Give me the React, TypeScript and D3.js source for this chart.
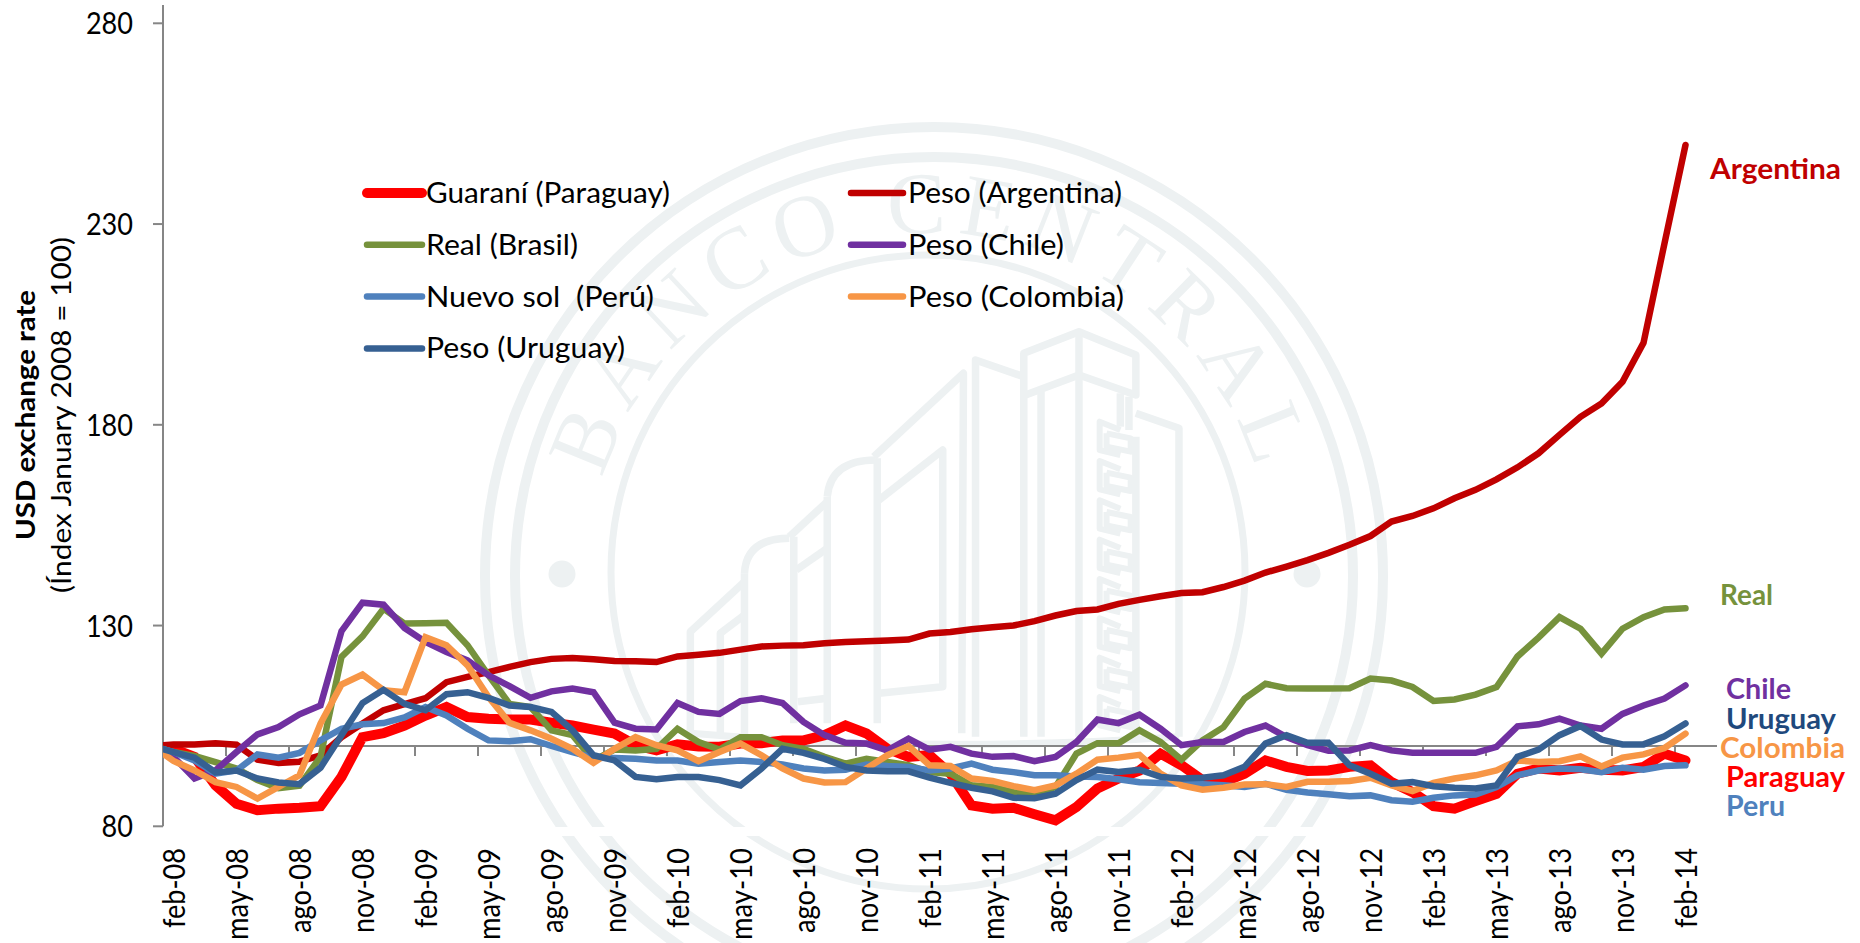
import React from "react";
import * as d3 from "d3";

// One value per month, jan-08 (index base) to feb-14
const paraguay = [100,99.3,97.3,90.2,85.6,84,84.4,84.6,85,92.3,102.2,103.2,105.1,107.6,109.7,107.2,106.8,106.6,106.6,105.8,105.1,104.1,103.1,100.2,98.9,100.4,99.9,99.8,100.6,100.7,101.4,101.4,102.7,105.1,103.1,99.3,97.3,97.7,93.1,85.2,84.4,84.6,83,81.5,84.8,89.4,91.9,93.9,98.1,95.2,91.5,91,93.1,96.4,94.8,93.8,93.9,94.8,95.2,91,88.5,85,84.4,86.3,88.1,93.1,94.4,93.9,94.6,94.1,93.9,94.8,98.1,96.4];
const argentina = [100,100.4,100.4,100.7,100.3,96.6,95.8,96.1,97.7,102.2,105.6,108.9,110.4,111.9,115.9,117.2,118.4,119.7,120.9,121.7,121.9,121.6,121.2,121.1,120.9,122.3,122.7,123.2,124,124.8,125,125.1,125.6,125.9,126.1,126.3,126.5,128,128.4,129.1,129.6,130,131.1,132.5,133.6,134,135.4,136.4,137.3,138.1,138.3,139.6,141.2,143.2,144.7,146.3,148.1,150.1,152.3,155.9,157.3,159.2,161.7,163.8,166.4,169.4,172.9,177.5,182,185.3,190.7,200.4,225.2,249.7];
const real = [100,98.5,97.5,96,94.4,91.5,89.5,90.1,97.3,122.2,127.3,134.2,130.5,130.6,130.7,125.1,117.6,110.5,109.7,103.9,102.7,96.4,99.1,98.9,99.3,104.3,101,99.1,102.2,102.2,100.2,99.3,97.3,95.6,96.8,96,95.2,93.5,93.1,90.2,89.8,88.5,87.7,89.8,98.1,100.7,100.7,103.9,101,96.6,101.4,104.7,111.8,115.5,114.4,114.3,114.3,114.4,116.8,116.3,114.7,111.2,111.6,112.8,114.7,122.3,127,132.1,129.2,123,129.2,132.1,134,134.3];
const chile = [100,97.3,91.9,93.9,98.5,102.9,104.7,107.9,110.1,128.6,135.7,135.2,129.4,125.9,123.4,121.3,117.6,114.9,112,113.6,114.3,113.4,105.8,104.3,104.1,110.7,108.5,108,111.2,111.9,110.7,106,102.7,100.8,100.6,98.9,101.8,99.1,99.8,98.1,97.3,97.5,96.2,97.3,101,106.6,105.7,107.8,104.3,100.2,101,101,103.5,105.1,102.2,100.2,98.8,98.9,100.2,98.9,98.3,98.3,98.3,98.3,99.8,104.9,105.4,106.8,105.1,104.3,108,110.1,111.8,115.1];
const peru = [100,98.5,96.4,93.1,93.9,97.9,97.1,98.3,101.4,104.3,105.4,105.7,107.1,109.7,107.6,104.3,101.4,101.2,101.7,100,98.5,97.1,97,96.8,96.4,96.4,95.6,96,96.4,96,95.4,94.4,93.9,94.1,95.4,95,94.8,93.9,94.4,95.6,94.1,93.5,92.7,92.7,92.4,92.3,91.7,91,90.8,90.6,90.5,90.2,89.8,90.6,89.1,88.4,88,87.5,87.7,86.5,86.1,87.1,87.7,87.9,89.8,92.7,93.9,94.4,94.2,93.5,94.6,94.1,95,95.2];
const colombia = [100,96.3,93.9,91,89.8,86.9,89.8,92.7,105.6,115.3,117.8,113.9,113.4,127.1,125.1,120.1,112.2,105.8,103.9,101.8,99.3,95.8,99.3,102.2,100.2,98.9,96.2,98.5,100.6,97.7,94.4,91.9,90.9,91,94.4,97.7,100,95.2,95,91.9,91.3,90,89,90.2,93.1,96.6,97.1,97.8,93.1,90.2,89.1,89.6,90.4,90.5,89.8,91.1,91.1,91.3,92.1,90.2,88.8,90.8,91.9,92.7,93.9,96.4,96,96.2,97.4,94.9,97.1,97.9,99.5,103.1];
const uruguay = [100,98.5,97.1,93.4,93.9,91.9,90.9,90.5,94.6,102.7,110.7,114,110.5,108.9,112.9,113.4,112,110.1,109.7,108.5,103.9,97.7,96.4,92.3,91.7,92.3,92.3,91.5,90.2,94.4,99.3,98.3,96.8,94.8,93.9,93.7,93.7,92.1,90.8,89.6,88.7,87.1,87,88.1,91.5,94.1,93.5,94.1,92.3,91.9,92.1,92.7,94.8,100.6,102.7,100.8,100.8,95.2,93.1,90.6,91,90,89.6,89.4,90.2,97.3,99.1,102.7,105,101.6,100.4,100.4,102.4,105.6];

const yTicks = [80, 130, 180, 230, 280];
const monthNames = ["ene","feb","mar","abr","may","jun","jul","ago","sep","oct","nov","dic"];
const tickWidths: Record<string, number> = { feb: 80, may: 92, ago: 85, nov: 85 };

const seriesNames = ["Guaraní (Paraguay)","Peso (Argentina)","Real (Brasil)","Peso (Chile)","Nuevo sol  (Perú)","Peso (Colombia)","Peso (Uruguay)"];
const seriesValues = [paraguay, argentina, real, chile, peru, colombia, uruguay];
const seriesColors = ["#ff0000","#c00000","#76923c","#7030a0","#4f81bd","#f79646","#366092"];
const seriesWidths = [10, 6.5, 6.5, 6.5, 6.5, 6.5, 6.5];
const legendTextWidths = [244, 214, 152, 156, 228, 216, 199];

const legendOrder = [
  { s: 0, col: 0, row: 0 }, { s: 2, col: 0, row: 1 }, { s: 4, col: 0, row: 2 }, { s: 6, col: 0, row: 3 },
  { s: 1, col: 1, row: 0 }, { s: 3, col: 1, row: 1 }, { s: 5, col: 1, row: 2 },
];

const endLabels = [
  { t: "Argentina", x: 1710, y: 179, w: 131, c: "#c00000" },
  { t: "Real", x: 1720, y: 605, w: 53, c: "#76923c" },
  { t: "Chile", x: 1726, y: 699, w: 65, c: "#7030a0" },
  { t: "Uruguay", x: 1726, y: 729, w: 110, c: "#1f497d" },
  { t: "Colombia", x: 1720, y: 758, w: 125, c: "#f79646" },
  { t: "Paraguay", x: 1726, y: 787, w: 119, c: "#ff0000" },
  { t: "Peru", x: 1726, y: 816, w: 59, c: "#4f81bd" },
];

const FONT = "Lato, 'Open Sans', sans-serif";
const WM = "#edf1f2";
const axisColor = "#868686";

const x = d3.scaleLinear().domain([0, 73]).range([152.5, 1685.5]);
const y = d3.scaleLinear().domain([80, 280]).range([826.3, 23.3]);
const line = d3.line<number>().x((_, i) => x(i)).y((d) => y(d));

// Watermark building, in the seal's own coordinates
const bx = (v: number) => 660 + v / 2.9;
const by = (v: number) => 310 + v / 3;
const buildingLines: number[][][] = [
  [[88,1270],[88,965],[245,815]],
  [[175,1270],[175,970],[245,915]],
  [[375,680],[485,575]],
  [[395,780],[485,715]],
  [[388,680],[388,1240]],
  [[400,1175],[485,1165]],
  [[485,1240],[485,560]],
  [[245,1290],[245,790]],
  [[630,1240],[630,445]],
  [[620,440],[880,190],[875,1270]],
  [[635,570],[820,420],[820,1130],[635,1150]],
  [[915,1280],[915,150],[1055,200]],
  [[1055,1280],[1055,130],[1215,65],[1380,135],[1380,255],[1215,195],[1060,255]],
  [[1215,65],[1215,1280]],
  [[1105,245],[1105,1280]],
  [[1335,250],[1335,350]],
  [[1360,260],[1360,360]],
  [[1380,310],[1505,355],[1505,1280]],
  [[1380,1280],[1380,380]],
];
const combRows = [0, 1, 2, 3, 4, 5, 6, 7];

function polar(r: number, deg: number) {
  const a = (deg * Math.PI) / 180;
  return [931 + r * Math.sin(a), 575 - r * Math.cos(a)];
}
function arcPath(r: number, from: number, to: number, sweep: number) {
  const [x0, y0] = polar(r, from);
  const [x1, y1] = polar(r, to);
  return `M${x0},${y0}A${r},${r} 0 1 ${sweep} ${x1},${y1}`;
}

function Watermark() {
  const l = d3.line<number[]>().x((p) => bx(p[0])).y((p) => by(p[1]));
  return (
    <g fill="none" stroke={WM}>
      <circle cx={934} cy={576} r={449} strokeWidth={10} />
      <circle cx={934} cy={576} r={419} strokeWidth={10} />
      <circle cx={928} cy={572} r={317} strokeWidth={7} />
      <circle cx={562} cy={574} r={13.5} fill={WM} stroke="none" />
      <circle cx={1307} cy={574} r={13.5} fill={WM} stroke="none" />
      <defs>
        <path id="wmTop" d={arcPath(342, -130, 130, 1)} />
        <path id="wmBottom" d={arcPath(398, -125, 125, 0)} />
      </defs>
      <text fontFamily="'Liberation Serif', serif" fontSize={88} fill={WM} stroke="none" textAnchor="middle" letterSpacing={11}>
        <textPath href="#wmTop" startOffset="50%">BANCO CENTRAL</textPath>
      </text>
      <text fontFamily="'Liberation Serif', serif" fontSize={88} fill={WM} stroke="none" textAnchor="middle" letterSpacing={22}>
        <textPath href="#wmBottom" startOffset="50%">DEL PARAGUAY</textPath>
      </text>
      <g strokeWidth={7.5} strokeLinejoin="round">
        {buildingLines.map((p, i) => <path key={i} d={l(p as any) as string} />)}
        <path d={`M${bx(245)},${by(790)}Q${bx(250)},${by(685)} ${bx(375)},${by(685)}`} />
        <path d={`M${bx(485)},${by(560)}Q${bx(495)},${by(450)} ${bx(625)},${by(450)}`} />
        {combRows.map((k) => {
          const r = 340 + 118 * k;
          return (
            <g key={k} strokeWidth={6}>
              <path d={l([[1335, r + 20], [1275, r - 5], [1275, r + 80], [1335, r + 95]] as any) as string} />
              <path d={l([[1295, r + 30], [1365, r + 45], [1365, r + 85], [1295, r + 70], [1295, r + 30]] as any) as string} />
            </g>
          );
        })}
        <path d={`M${bx(88)},${by(1270)}Q${bx(800)},${by(1330)} ${bx(1505)},${by(1280)}`} strokeWidth={7} />
      </g>
    </g>
  );
}

export default function App() {
  const tickIdx = d3.range(1, 74, 3); // feb, may, ago, nov
  return (
    <svg width={1860} height={943} viewBox="0 0 1860 943" style={{ position: "absolute", left: 0, top: 0, background: "#fff" }}>
      <defs>
        <clipPath id="plot"><rect x={163} y={0} width={1600} height={943} /></clipPath>
      </defs>
      <Watermark />
      <rect x={150} y={827} width={1560} height={9} fill="#fff" />

      {/* value axis */}
      <line x1={163} x2={163} y1={5} y2={y(80)} stroke={axisColor} strokeWidth={2} />
      {yTicks.map((t) => (
        <g key={t}>
          <line x1={153} x2={163} y1={y(t)} y2={y(t)} stroke={axisColor} strokeWidth={2} />
          <text x={133} y={y(t) + 11} textAnchor="end" fontFamily={FONT} fontSize={30} fill="#000" textLength={String(t).length * 15.7} lengthAdjust="spacingAndGlyphs">{t}</text>
        </g>
      ))}

      {/* category axis crossing at 100 */}
      <line x1={163} x2={1717} y1={y(100)} y2={y(100)} stroke={axisColor} strokeWidth={2} />
      {tickIdx.map((i) => (
        <line key={i} x1={x(i) - 10.5} x2={x(i) - 10.5} y1={y(100)} y2={y(100) + 10} stroke={axisColor} strokeWidth={2} />
      ))}
      {tickIdx.map((i) => {
        const m = monthNames[i % 12];
        const yr = String(8 + Math.floor(i / 12)).padStart(2, "0");
        return (
          <text key={i} transform={`translate(${x(i) + 11},848) rotate(-90)`} textAnchor="end" fontFamily={FONT} fontSize={30} fill="#000" textLength={tickWidths[m]} lengthAdjust="spacingAndGlyphs">
            {`${m}-${yr}`}
          </text>
        );
      })}

      {/* series */}
      <g clipPath="url(#plot)" fill="none" strokeLinejoin="miter" strokeMiterlimit={3} strokeLinecap="round">
        {seriesValues.map((v, s) => (
          <path key={s} d={line(v) as string} stroke={seriesColors[s]} strokeWidth={seriesWidths[s]} />
        ))}
      </g>

      {/* legend */}
      {legendOrder.map(({ s, col, row }) => {
        const ly = 193 + 51.8 * row;
        const x0 = col === 0 ? 367 : 851;
        const x1 = col === 0 ? 422 : 903;
        const tx = col === 0 ? 426 : 908;
        return (
          <g key={s}>
            <line x1={x0} x2={x1} y1={ly} y2={ly} stroke={seriesColors[s]} strokeWidth={seriesWidths[s]} strokeLinecap="round" />
            <text x={tx} y={ly + 10} fontFamily={FONT} fontSize={29} fill="#000" textLength={legendTextWidths[s]} lengthAdjust="spacingAndGlyphs" style={{ whiteSpace: "pre" }}>{seriesNames[s]}</text>
          </g>
        );
      })}

      {/* end labels */}
      {endLabels.map((e) => (
        <text key={e.t} x={e.x} y={e.y} fontFamily={FONT} fontWeight={700} fontSize={29} fill={e.c} textLength={e.w} lengthAdjust="spacingAndGlyphs">{e.t}</text>
      ))}

      {/* axis titles */}
      <text transform="translate(35,415) rotate(-90)" textAnchor="middle" fontFamily={FONT} fontWeight={700} fontSize={27} fill="#000" textLength={250} lengthAdjust="spacingAndGlyphs">USD exchange rate</text>
      <text transform="translate(71,415) rotate(-90)" textAnchor="middle" fontFamily={FONT} fontSize={27} fill="#000" textLength={356} lengthAdjust="spacingAndGlyphs">(Índex January 2008 = 100)</text>
    </svg>
  );
}
